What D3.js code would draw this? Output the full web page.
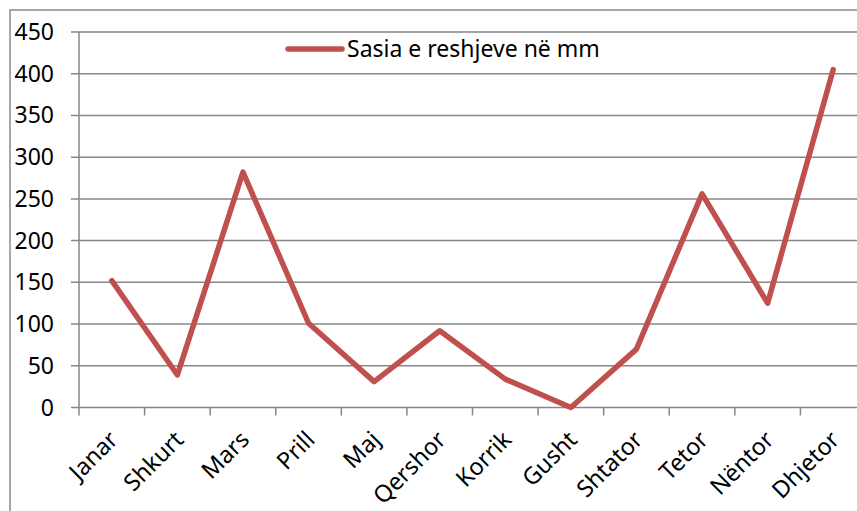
<!DOCTYPE html>
<html>
<head>
<meta charset="utf-8">
<script src="https://cdn.jsdelivr.net/npm/d3@7/dist/d3.min.js"></script>
<style>
  body { margin: 0; background: #fff; }
  text { font-family: "Noto Sans", sans-serif; fill: #000; }
</style>
</head>
<body>
<script>
var months = ["Janar", "Shkurt", "Mars", "Prill", "Maj", "Qershor", "Korrik", "Gusht", "Shtator", "Tetor", "Nëntor", "Dhjetor"];
var rainfall = [152, 39, 282, 101, 31, 92, 34, 0, 70, 256, 125, 405];
var yTicks = [0, 50, 100, 150, 200, 250, 300, 350, 400, 450];
var seriesName = "Sasia e reshjeve në mm";

var width = 857, height = 511;
var plotLeft = 79, plotRight = 866, plotTop = 32, plotBottom = 407.5;

var svg = d3.select("body").append("svg")
    .attr("width", width)
    .attr("height", height);

// outer chart border
svg.append("rect")
    .attr("x", 10).attr("y", 10)
    .attr("width", 900).attr("height", 600)
    .attr("fill", "none")
    .attr("stroke", "#8a8a8a")
    .attr("stroke-width", 1.5);

var x = d3.scaleBand().domain(months).range([plotLeft, plotRight]);
var y = d3.scaleLinear().domain([0, 450]).range([plotBottom, plotTop]);

// gridlines
svg.append("g").selectAll("line")
    .data(yTicks)
  .enter().append("line")
    .attr("x1", plotLeft - 8)
    .attr("x2", plotRight)
    .attr("y1", function(d) { return y(d); })
    .attr("y2", function(d) { return y(d); })
    .attr("stroke", "#878787")
    .attr("stroke-width", 1.5);

// y axis line
svg.append("line")
    .attr("x1", plotLeft).attr("x2", plotLeft)
    .attr("y1", plotTop).attr("y2", plotBottom)
    .attr("stroke", "#878787")
    .attr("stroke-width", 1.5);

// x tick marks at category boundaries
svg.append("g").selectAll("line")
    .data(months)
  .enter().append("line")
    .attr("x1", function(d) { return x(d); })
    .attr("x2", function(d) { return x(d); })
    .attr("y1", plotBottom)
    .attr("y2", plotBottom + 8)
    .attr("stroke", "#878787")
    .attr("stroke-width", 1.5);

// y labels
svg.append("g").selectAll("text")
    .data(yTicks)
  .enter().append("text")
    .attr("x", 54)
    .attr("y", function(d) { return y(d); })
    .attr("dy", "0.35em")
    .attr("text-anchor", "end")
    .style("font-size", "23px")
    .text(function(d) { return d; });

// x labels
svg.append("g").selectAll("text")
    .data(months)
  .enter().append("text")
    .attr("transform", function(d) {
      return "translate(" + (x(d) + x.bandwidth() / 2 - 4) + "," + (plotBottom + 22) + ") rotate(-45)";
    })
    .attr("text-anchor", "end")
    .attr("dy", "0.7em")
    .style("font-size", "23.5px")
    .text(function(d) { return d; });

// data line
var line = d3.line()
    .x(function(d, i) { return x(months[i]) + x.bandwidth() / 2; })
    .y(function(d) { return y(d); });

svg.append("path")
    .datum(rainfall)
    .attr("d", line)
    .attr("fill", "none")
    .attr("stroke", "#c0504d")
    .attr("stroke-width", 5.5)
    .attr("stroke-linejoin", "round")
    .attr("stroke-linecap", "round");

// legend
var legend = svg.append("g");
legend.append("line")
    .attr("x1", 288).attr("x2", 342)
    .attr("y1", 49).attr("y2", 49)
    .attr("stroke", "#c0504d")
    .attr("stroke-width", 5.5)
    .attr("stroke-linecap", "round");
legend.append("text")
    .attr("x", 347)
    .attr("y", 49)
    .attr("dy", "0.35em")
    .style("font-size", "23px")
    .text(seriesName);
</script>
</body>
</html>
